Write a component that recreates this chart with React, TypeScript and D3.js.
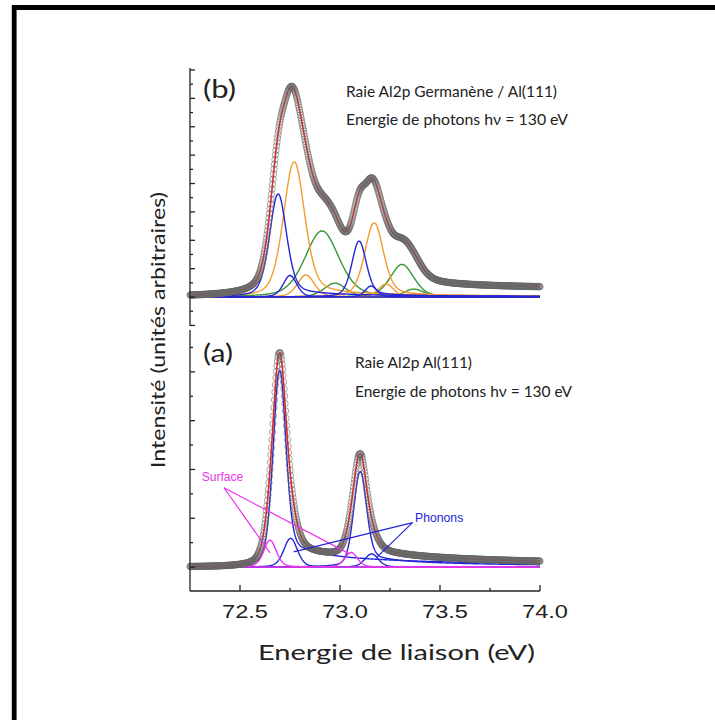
import React from "react";
import * as d3 from "d3";

// ---------- axis data ----------
const ENERGY_MIN = 72.25;
const ENERGY_MAX = 74.0;
const ENERGY_STEP = 0.0025;
const xMajorTicks = [72.5, 73.0, 73.5, 74.0];
const xMinorTicks = [72.75, 73.25, 73.75];
const xTickLabels = ["72.5", "73.0", "73.5", "74.0"];
const yBTicks = [-1, -0.5, 0, 0.5, 1, 1.5, 2, 2.5, 3, 3.5, 4, 4.5, 5, 5.5, 6, 6.5, 7, 7.5, 8];
const yATicks = [0, 0.5, 1, 1.5, 2, 2.5, 3, 3.5, 4, 4.5];

// ---------- panel (b): Al2p Germanène / Al(111) fitted components ----------
// centre (eV), height (a.u.), FWHM (eV), high-BE tail amplitude
const bBlueCenter = [72.69, 72.75, 73.095, 73.155];
const bBlueHeight = [3.63, 0.76, 1.97, 0.39];
const bBlueFwhm = [0.1, 0.08, 0.085, 0.07];
const bBlueTail = [0.05, 0, 0.05, 0];
const bOrangeCenter = [72.77, 72.83, 73.17, 73.23];
const bOrangeHeight = [4.76, 0.78, 2.61, 0.46];
const bOrangeFwhm = [0.125, 0.1, 0.11, 0.09];
const bOrangeTail = [0.05, 0, 0.05, 0];
const bGreenCenter = [72.91, 72.975, 73.31, 73.37];
const bGreenHeight = [2.33, 0.49, 1.15, 0.28];
const bGreenFwhm = [0.2, 0.13, 0.14, 0.12];
const bGreenTail = [0, 0, 0, 0];
const bBackground = 0.22;
const bLorentzFraction = 0.35;

// ---------- panel (a): Al2p Al(111) fitted components ----------
const aBulkCenter = [72.697, 73.1];
const aBulkHeight = [4.02, 1.95];
const aBulkFwhm = [0.075, 0.075];
const aBulkTail = [0.112, 0.112];
const aPhononCenter = [72.753, 73.158];
const aPhononHeight = [0.59, 0.27];
const aPhononFwhm = [0.08, 0.08];
const aPhononTail = [0, 0];
const aSurfaceCenter = [72.65, 73.055];
const aSurfaceHeight = [0.55, 0.3];
const aSurfaceFwhm = [0.075, 0.075];
const aSurfaceTail = [0, 0];
const aBackground = 0.0;
const aLorentzFraction = 0.3;

// annotation pointers (label anchor -> component peaks), in data units
const surfacePointerFrom = [72.42, 1.625];
const surfacePointerTo = [[72.65, 0.29], [73.0475, 0.27]];
const phononPointerFrom = [73.3625, 0.91];
const phononPointerTo = [[72.7685, 0.31], [73.1835, 0.2]];

const BLUE = "#2424d8";
const ORANGE = "#f59a2f";
const GREEN = "#389638";
const MAGENTA = "#ec34ec";
const RED = "#ea2020";
const AXIS = "#222";

type Comp = { c: number; h: number; w: number; t: number; eta: number; color: string };

function peak(e: number, p: Comp) {
  const d = e - p.c;
  const u = (2 * d) / p.w;
  const g = Math.exp(-Math.LN2 * u * u);
  const l = 1 / (1 + u * u);
  let v = p.h * (p.eta * l + (1 - p.eta) * g);
  if (p.t > 0 && d > 0) v += (p.t * p.h * (1 - Math.exp(-d / (0.6 * p.w)))) / (1 + d / 0.25);
  return v;
}

function makeComps(cs: number[], hs: number[], ws: number[], ts: number[], eta: number, color: string): Comp[] {
  return cs.map((c, i) => ({ c, h: hs[i], w: ws[i], t: ts[i], eta, color }));
}

const energies = d3.range(ENERGY_MIN, ENERGY_MAX + ENERGY_STEP / 2, ENERGY_STEP);

function envelope(comps: Comp[], S: number) {
  const sums = energies.map((e) => d3.sum(comps, (p) => peak(e, p)));
  const cum = Array.from(d3.cumsum(sums));
  const total = cum[cum.length - 1];
  return energies.map((e, i) => [e, sums[i] + (S * cum[i]) / total] as [number, number]);
}

const x = d3.scaleLinear().domain([ENERGY_MIN, ENERGY_MAX]).range([190, 540]);
const yB = d3.scaleLinear().domain([-1.02, 8.07]).range([326, 68]);
const yA = d3.scaleLinear().domain([-0.49, 4.857]).range([591, 330]);

function Panel({ comps, S, y }: { comps: Comp[]; S: number; y: d3.ScaleLinear<number, number> }) {
  const line = d3
    .line<[number, number]>()
    .x((d) => x(d[0]))
    .y((d) => y(d[1]));
  const env = envelope(comps, S);
  return (
    <g>
      {comps.map((p, i) => (
        <path
          key={i}
          d={line(energies.map((e) => [e, peak(e, p)] as [number, number])) || ""}
          fill="none"
          stroke={p.color}
          strokeWidth={1.4}
        />
      ))}
      <path d={line(env) || ""} fill="none" stroke={RED} strokeWidth={1.6} />
      <g fill="none" stroke="#666" strokeWidth={0.9} strokeOpacity={0.65}>
        {env.map((d, i) => (
          <circle key={i} cx={x(d[0])} cy={y(d[1])} r={3.2} />
        ))}
      </g>
    </g>
  );
}

export default function App() {
  const bComps = [
    ...makeComps(bGreenCenter, bGreenHeight, bGreenFwhm, bGreenTail, bLorentzFraction, GREEN),
    ...makeComps(bOrangeCenter, bOrangeHeight, bOrangeFwhm, bOrangeTail, bLorentzFraction, ORANGE),
    ...makeComps(bBlueCenter, bBlueHeight, bBlueFwhm, bBlueTail, bLorentzFraction, BLUE),
  ];
  const aComps = [
    ...makeComps(aBulkCenter, aBulkHeight, aBulkFwhm, aBulkTail, aLorentzFraction, BLUE),
    ...makeComps(aPhononCenter, aPhononHeight, aPhononFwhm, aPhononTail, aLorentzFraction, BLUE),
    ...makeComps(aSurfaceCenter, aSurfaceHeight, aSurfaceFwhm, aSurfaceTail, aLorentzFraction, MAGENTA),
  ];
  const textFont = "Lato, 'Open Sans', sans-serif";
  const arial = "'Liberation Sans', Arial, sans-serif";
  return (
    <svg
      width={715}
      height={720}
      style={{ position: "absolute", left: 0, top: 0, background: "#fff" }}
      xmlns="http://www.w3.org/2000/svg"
    >
      <rect x={0} y={0} width={715} height={720} fill="#fff" />
      {/* frame */}
      <path d="M14.2,720 V7.5 H715" fill="none" stroke="#000" strokeWidth={4.8} />

      {/* panels */}
      <Panel comps={bComps} S={bBackground} y={yB} />
      <Panel comps={aComps} S={aBackground} y={yA} />

      {/* axes */}
      <g stroke={AXIS} strokeWidth={1.3} fill="none">
        <line x1={190} x2={190} y1={yB.range()[0]} y2={yB.range()[1]} />
        {yBTicks.map((t) => (
          <line key={"b" + t} x1={190} x2={190 + (Number.isInteger(t) ? 5 : 3)} y1={yB(t)} y2={yB(t)} />
        ))}
        <line x1={190} x2={190} y1={yA.range()[0]} y2={yA.range()[1]} />
        {yATicks.map((t) => (
          <line key={"a" + t} x1={190} x2={190 + (Number.isInteger(t) ? 5 : 3)} y1={yA(t)} y2={yA(t)} />
        ))}
        <line x1={x.range()[0]} x2={x.range()[1]} y1={591} y2={591} />
        {xMajorTicks.map((t) => (
          <line key={"xm" + t} x1={x(t)} x2={x(t)} y1={591} y2={585} />
        ))}
        {xMinorTicks.map((t) => (
          <line key={"xn" + t} x1={x(t)} x2={x(t)} y1={591} y2={588} />
        ))}
      </g>
      <g fontFamily={arial} fontSize={18.6} fill="#222" textAnchor="middle">
        {xMajorTicks.map((t, i) => (
          <text key={t} x={x(t) + 5} y={618} textLength={46} lengthAdjust="spacingAndGlyphs">
            {xTickLabels[i]}
          </text>
        ))}
      </g>
      <text x={396.5} y={660} fontFamily={textFont} fontSize={21} fill="#222" textAnchor="middle" textLength={277} lengthAdjust="spacingAndGlyphs">
        Energie de liaison (eV)
      </text>
      <text
        transform="translate(165,330) rotate(-90)"
        fontFamily={textFont}
        fontSize={20}
        fill="#222"
        textAnchor="middle"
        textLength={276}
        lengthAdjust="spacingAndGlyphs"
      >
        Intensité (unités arbitraires)
      </text>

      {/* panel labels */}
      <g fontFamily={textFont} fill="#222">
        <text x={203} y={98} fontSize={25} textLength={33} lengthAdjust="spacingAndGlyphs">(b)</text>
        <text x={346} y={96.7} fontSize={16} textLength={211} lengthAdjust="spacingAndGlyphs">Raie Al2p Germanène / Al(111)</text>
        <text x={346} y={125} fontSize={16} textLength={222} lengthAdjust="spacingAndGlyphs">Energie de photons hν = 130 eV</text>
        <text x={203} y={362} fontSize={25} textLength={30} lengthAdjust="spacingAndGlyphs">(a)</text>
        <text x={355} y={368} fontSize={16} textLength={117} lengthAdjust="spacingAndGlyphs">Raie Al2p Al(111)</text>
        <text x={355} y={397} fontSize={16} textLength={217} lengthAdjust="spacingAndGlyphs">Energie de photons hν = 130 eV</text>
      </g>

      {/* annotations */}
      <g stroke={MAGENTA} strokeWidth={1.2}>
        {surfacePointerTo.map((p, i) => (
          <line key={i} x1={x(surfacePointerFrom[0])} y1={yA(surfacePointerFrom[1])} x2={x(p[0])} y2={yA(p[1])} />
        ))}
      </g>
      <g stroke={BLUE} strokeWidth={1.2}>
        {phononPointerTo.map((p, i) => (
          <line key={i} x1={x(phononPointerFrom[0])} y1={yA(phononPointerFrom[1])} x2={x(p[0])} y2={yA(p[1])} />
        ))}
      </g>
      <text x={201.7} y={481} fontFamily={arial} fontSize={12.5} fill={MAGENTA} textLength={41.6} lengthAdjust="spacingAndGlyphs">Surface</text>
      <text x={415} y={521.7} fontFamily={arial} fontSize={12.5} fill={BLUE} textLength={48.3} lengthAdjust="spacingAndGlyphs">Phonons</text>
    </svg>
  );
}
